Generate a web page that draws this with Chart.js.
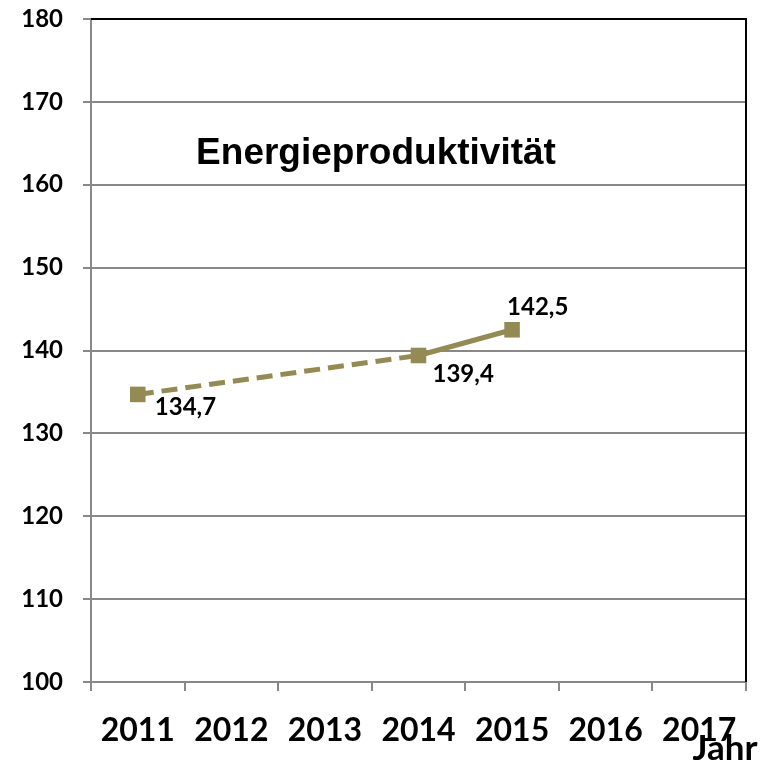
<!DOCTYPE html>
<html><head><meta charset="utf-8">
<script src="https://cdn.jsdelivr.net/npm/chart.js@4"></script>
<style>html,body{margin:0;padding:0;background:#fff}#wrap{width:768px;height:766px}</style>
</head><body><div id="wrap"><canvas id="c"></canvas></div>
<script>
const years = ['2011','2012','2013','2014','2015','2016','2017'];
const energieproduktivitaet = [134.7, null, null, 139.4, 142.5, null, null];
const yMin = 100, yMax = 180, yStep = 10;
const chartTitle = 'Energieproduktivität';
const xAxisTitle = 'Jahr';
// label placement per point (style only)
const labelPlacement = ['belowRight', null, null, 'belowRight2', 'above'];

const LINE = '#948A54';
const GRID = '#888888';
const TICKFONT = 'Lato';
const TW = 'bold';

const overlay = {
  id: 'overlay',
  afterDatasetsDraw(chart) {
    const {ctx, chartArea: a} = chart;
    ctx.save();
    ctx.strokeStyle = '#000'; ctx.lineWidth = 2;
    ctx.beginPath();
    ctx.moveTo(a.left, a.top); ctx.lineTo(a.right, a.top); ctx.lineTo(a.right, a.bottom);
    ctx.stroke();
    // data labels
    const meta = chart.getDatasetMeta(0);
    ctx.fillStyle = '#000';
    ctx.font = TW + ' 24px ' + TICKFONT;
    energieproduktivitaet.forEach((v, i) => {
      if (v == null) return;
      const p = meta.data[i];
      const txt = v.toFixed(1).replace('.', ',');
      const pl = labelPlacement[i];
      ctx.textBaseline = 'middle';
      ctx.textAlign = 'left';
      if (pl === 'belowRight') ctx.fillText(txt, p.x + 17, p.y + 13);
      else if (pl === 'belowRight2') ctx.fillText(txt, p.x + 14, p.y + 19);
      else ctx.fillText(txt, p.x - 5, p.y - 23);
    });
    // chart title inside plot
    ctx.font = 'bold 37px "Liberation Sans"';
    ctx.textAlign = 'center'; ctx.textBaseline = 'middle';
    ctx.fillText(chartTitle, a.left + 285, a.top + 135);
    // axis title
    ctx.font = TW + ' 35px ' + TICKFONT;
    ctx.textAlign = 'center'; ctx.textBaseline = 'alphabetic';
    ctx.fillText(xAxisTitle, a.right - 21, a.bottom + 78);
    ctx.restore();
  }
};

new Chart(document.getElementById('c'), {
  type: 'line',
  data: {
    labels: years,
    datasets: [{
      data: energieproduktivitaet,
      borderColor: LINE,
      backgroundColor: LINE,
      borderWidth: 5,
      pointStyle: 'rect',
      pointRadius: 11,
      pointHoverRadius: 11,
      pointBorderWidth: 0,
      spanGaps: true,
      segment: {
        borderDash: ctx => (energieproduktivitaet[ctx.p1DataIndex - 1] == null ? [16, 8] : undefined)
      }
    }]
  },
  options: {
    responsive: true,
    maintainAspectRatio: false,
    animation: false,
    layout: {padding: {left: 0, top: 19, right: 22, bottom: 0}},
    plugins: {legend: {display: false}, tooltip: {enabled: false}, title: {display: false}},
    scales: {
      x: {
        offset: true,
        grid: {drawOnChartArea: false, drawTicks: true, tickLength: 9, color: GRID, offset: true, lineWidth: 2},
        border: {display: true, color: GRID, width: 2},
        ticks: {font: {family: TICKFONT, weight: TW, size: 32}, color: '#000', padding: 20, maxRotation: 0, autoSkip: false},
        afterFit(s) { s.height = 84; s.paddingLeft = 0; s.paddingRight = 0; }
      },
      y: {
        min: yMin, max: yMax,
        grid: {color: GRID, lineWidth: 2, tickLength: 8},
        border: {display: true, color: GRID, width: 2},
        ticks: {stepSize: yStep, font: {family: TICKFONT, weight: TW, size: 24}, color: '#000', padding: 20},
        afterFit(s) { s.width = 91; s.paddingTop = 0; s.paddingBottom = 0; }
      }
    }
  },
  plugins: [overlay]
});
</script></body></html>
